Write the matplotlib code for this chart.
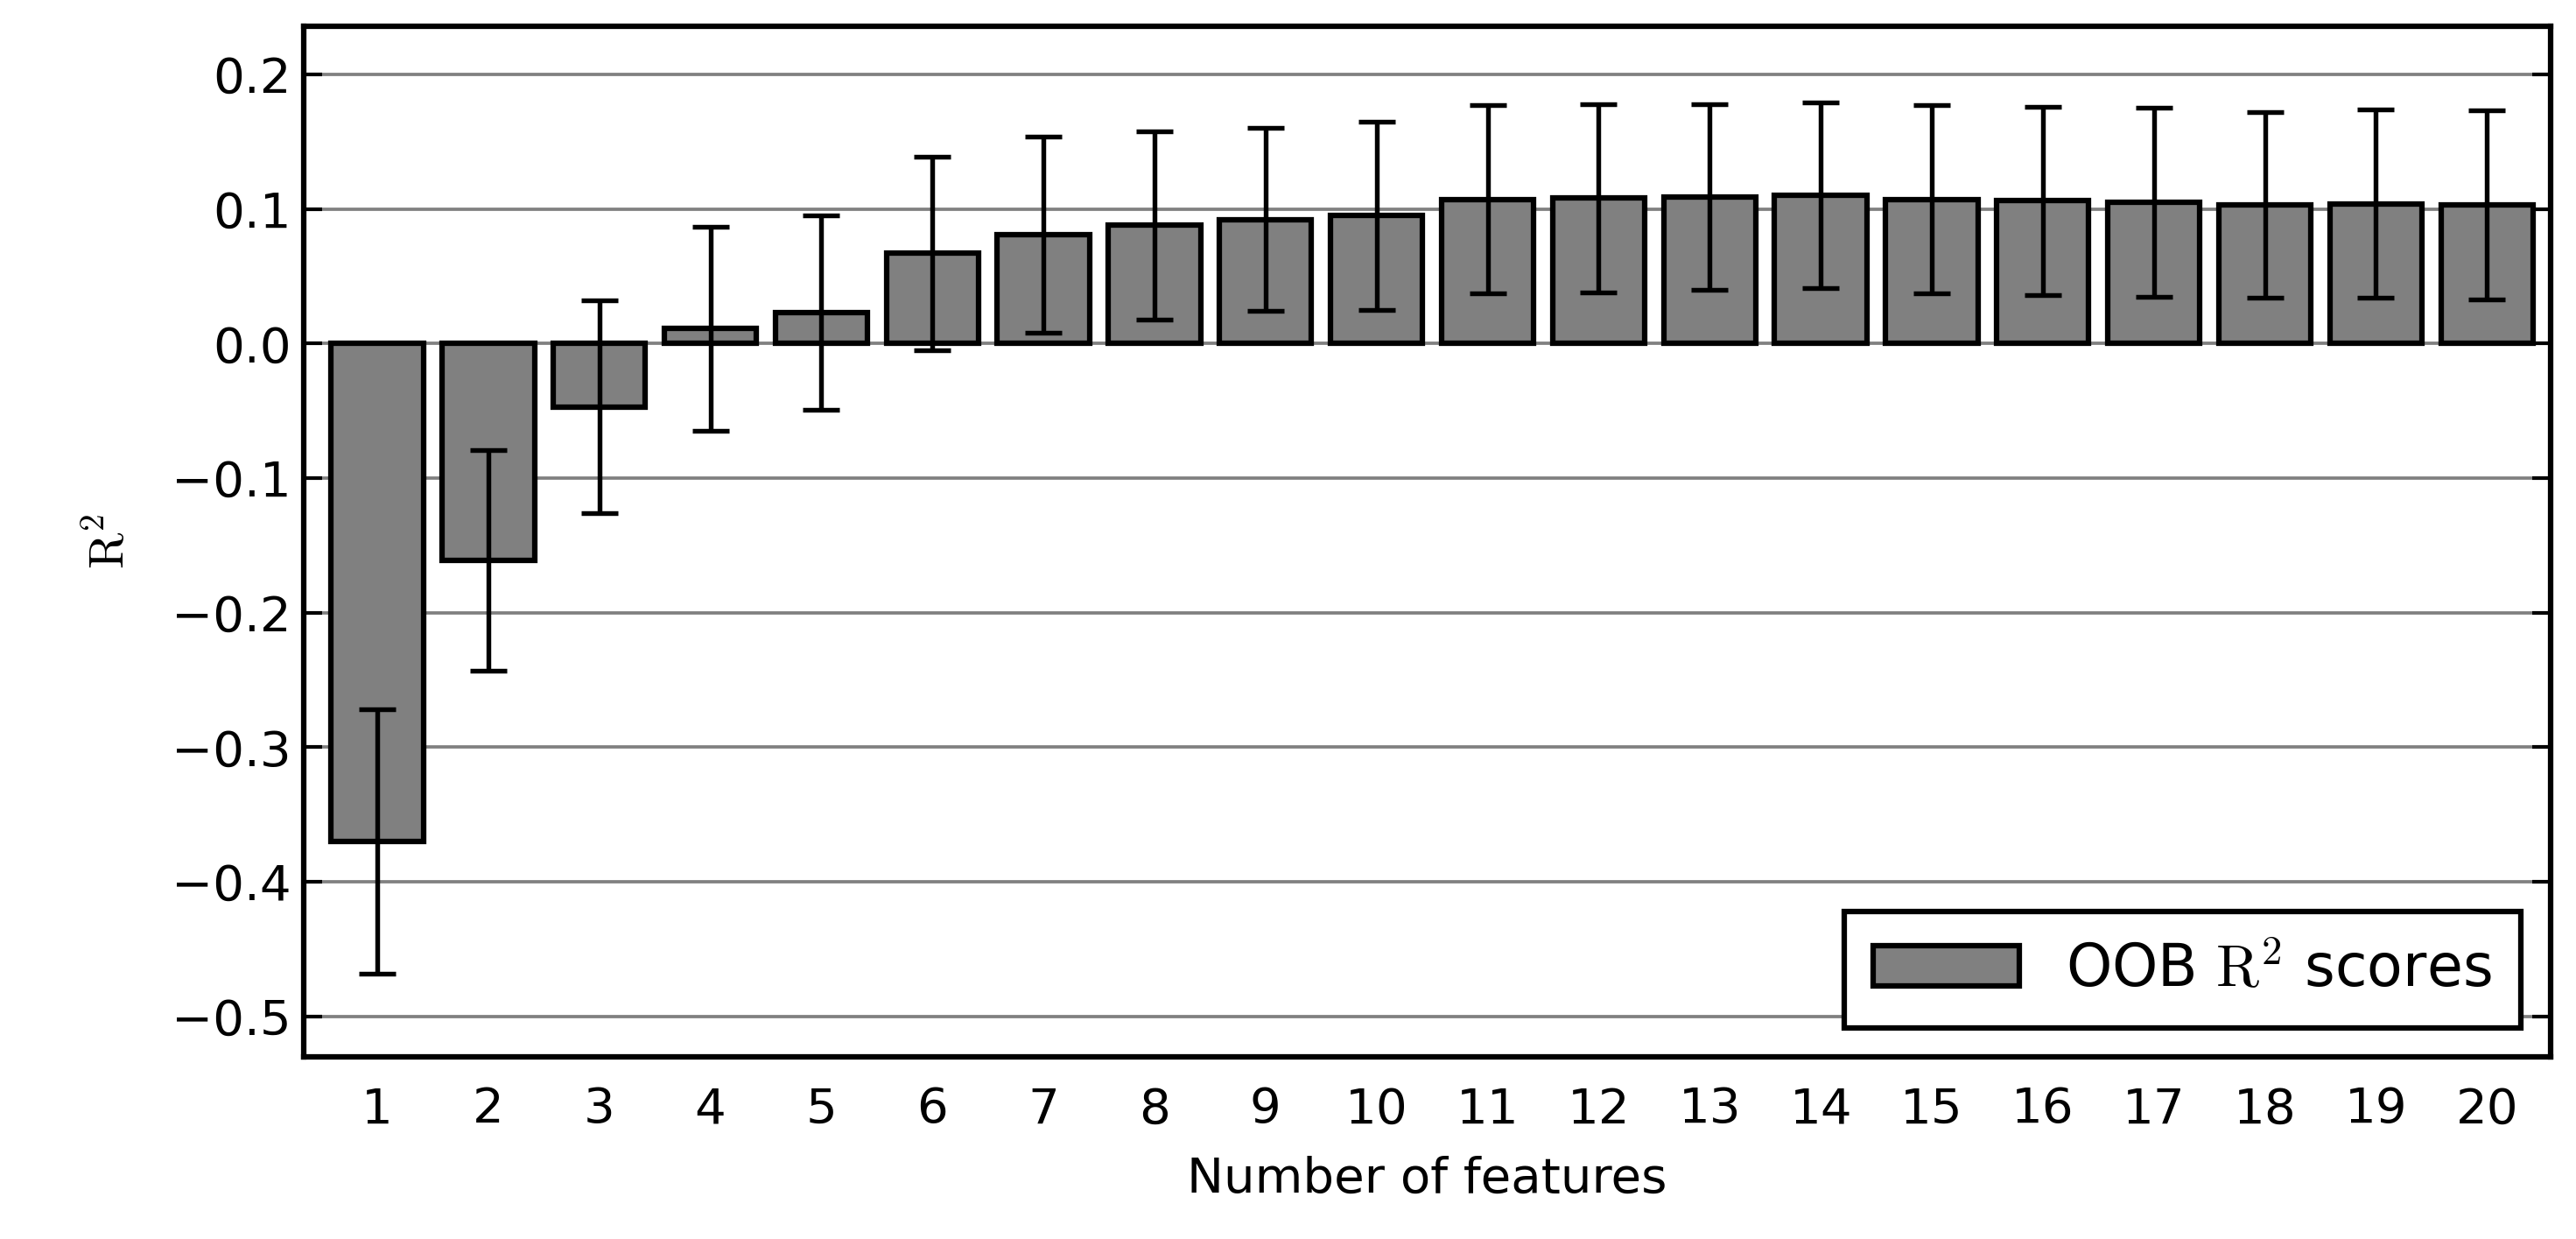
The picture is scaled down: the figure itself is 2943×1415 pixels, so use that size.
import matplotlib
matplotlib.use("Agg")
import matplotlib.pyplot as plt

plt.rcParams['mathtext.fontset'] = 'cm'

features = list(range(1, 21))
scores = [-0.370, -0.161, -0.047, 0.011, 0.023, 0.067, 0.081, 0.088, 0.092, 0.095,
          0.107, 0.108, 0.109, 0.110, 0.107, 0.106, 0.105, 0.103, 0.104, 0.103]
errors = [0.098, 0.082, 0.079, 0.076, 0.072, 0.072, 0.073, 0.070, 0.068, 0.070,
          0.070, 0.070, 0.069, 0.069, 0.070, 0.070, 0.070, 0.069, 0.070, 0.070]
yticks = [-0.5, -0.4, -0.3, -0.2, -0.1, 0.0, 0.1, 0.2]

fig = plt.figure(figsize=(9.81, 4.717), dpi=300)
ax = fig.add_axes([0.118, 0.147, 0.872, 0.832])
ax.set_axisbelow(True)
ax.yaxis.grid(True, color='#808080', linewidth=0.9)
ax.bar(features, scores, width=0.83, color='#808080', edgecolor='black', linewidth=1.5,
       yerr=errors, error_kw=dict(ecolor='black', elinewidth=1.3, capsize=5, capthick=1.3),
       label=r'OOB $\mathrm{R}^2$ scores')
ax.set_xlim(0.34, 20.57)
ax.set_ylim(-0.53, 0.236)
ax.set_xticks(features)
ax.set_yticks(yticks)
ax.set_yticklabels([f"{v:.1f}".replace('-', '\u2212') for v in yticks])
ax.tick_params(direction='in', labelsize=13.5, length=5, width=1, top=True, right=True)
ax.tick_params(axis='x', length=0, pad=8)
for s in ax.spines.values():
    s.set_linewidth(1.5)
ax.set_xlabel('Number of features', fontsize=13.5, labelpad=6)
ax.set_ylabel(r'$\mathrm{R}^2$', fontsize=13.5, labelpad=10)
leg = ax.legend(loc='lower right', fontsize=16, fancybox=False, framealpha=1,
                edgecolor='black', borderpad=0.5, handlelength=2.5)
leg.get_frame().set_linewidth(1.5)
fig.savefig('out.png', dpi=300)
